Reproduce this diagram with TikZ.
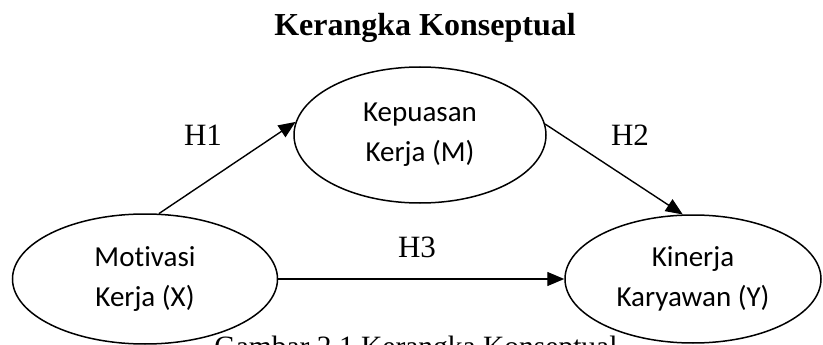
\documentclass[tikz,border=0pt]{standalone}
\usepackage{fontspec}
\setmainfont{Liberation Serif}
\newfontfamily\calibri[Ligatures=NoCommon]{Carlito}
\usepackage{tikz}
\usetikzlibrary{arrows.meta}
\usetikzlibrary{shapes.geometric}

\tikzset{
  variabel/.style={draw, ellipse, line width=1.5pt, minimum width=256pt, minimum height=128pt,
    inner sep=0pt, align=center, font=\calibri\fontsize{29}{40}\selectfont},
  hipotesis/.style={font=\fontsize{31}{31}\selectfont},
  panah/.style={->, line width=1.4pt},
}

\begin{document}
\begin{tikzpicture}[x=1pt, y=-1pt, >={Triangle[length=17pt,width=14pt]}]
        \useasboundingbox (0,0) rectangle (823,345);

        % Judul
        \node[anchor=base, font=\bfseries\fontsize{32}{32}\selectfont] (judul) at (425,36) {Kerangka Konseptual};

        % Variabel
        \node[variabel, minimum width=252pt, minimum height=136pt] (kep) at (420,135) {Kepuasan\\Kerja (M)};
        \node[variabel, minimum width=265pt, minimum height=130pt] (mot) at (145,279) {Motivasi\\Kerja (X)};
        \node[variabel] (kin) at (693,279) {Kinerja\\Karyawan (Y)};

        % Jalur
        \draw[panah] (mot.78) -- (kep.174);
        \draw[panah] (kep.5) -- (kin.99);
        \draw[panah] (mot.east) -- (kin.west);

        % Labels
        \node[hipotesis] (h1) at (203,135) {H1};
        \node[hipotesis] (h2) at (630,135) {H2};
        \node[hipotesis] (h3) at (417,247) {H3};

        % Keterangan
        \node[anchor=base, font=\fontsize{29.5}{30}\selectfont] (ket) at (416,356) {Gambar 2.1 Kerangka Konseptual};
    \end{tikzpicture}
\end{document}
